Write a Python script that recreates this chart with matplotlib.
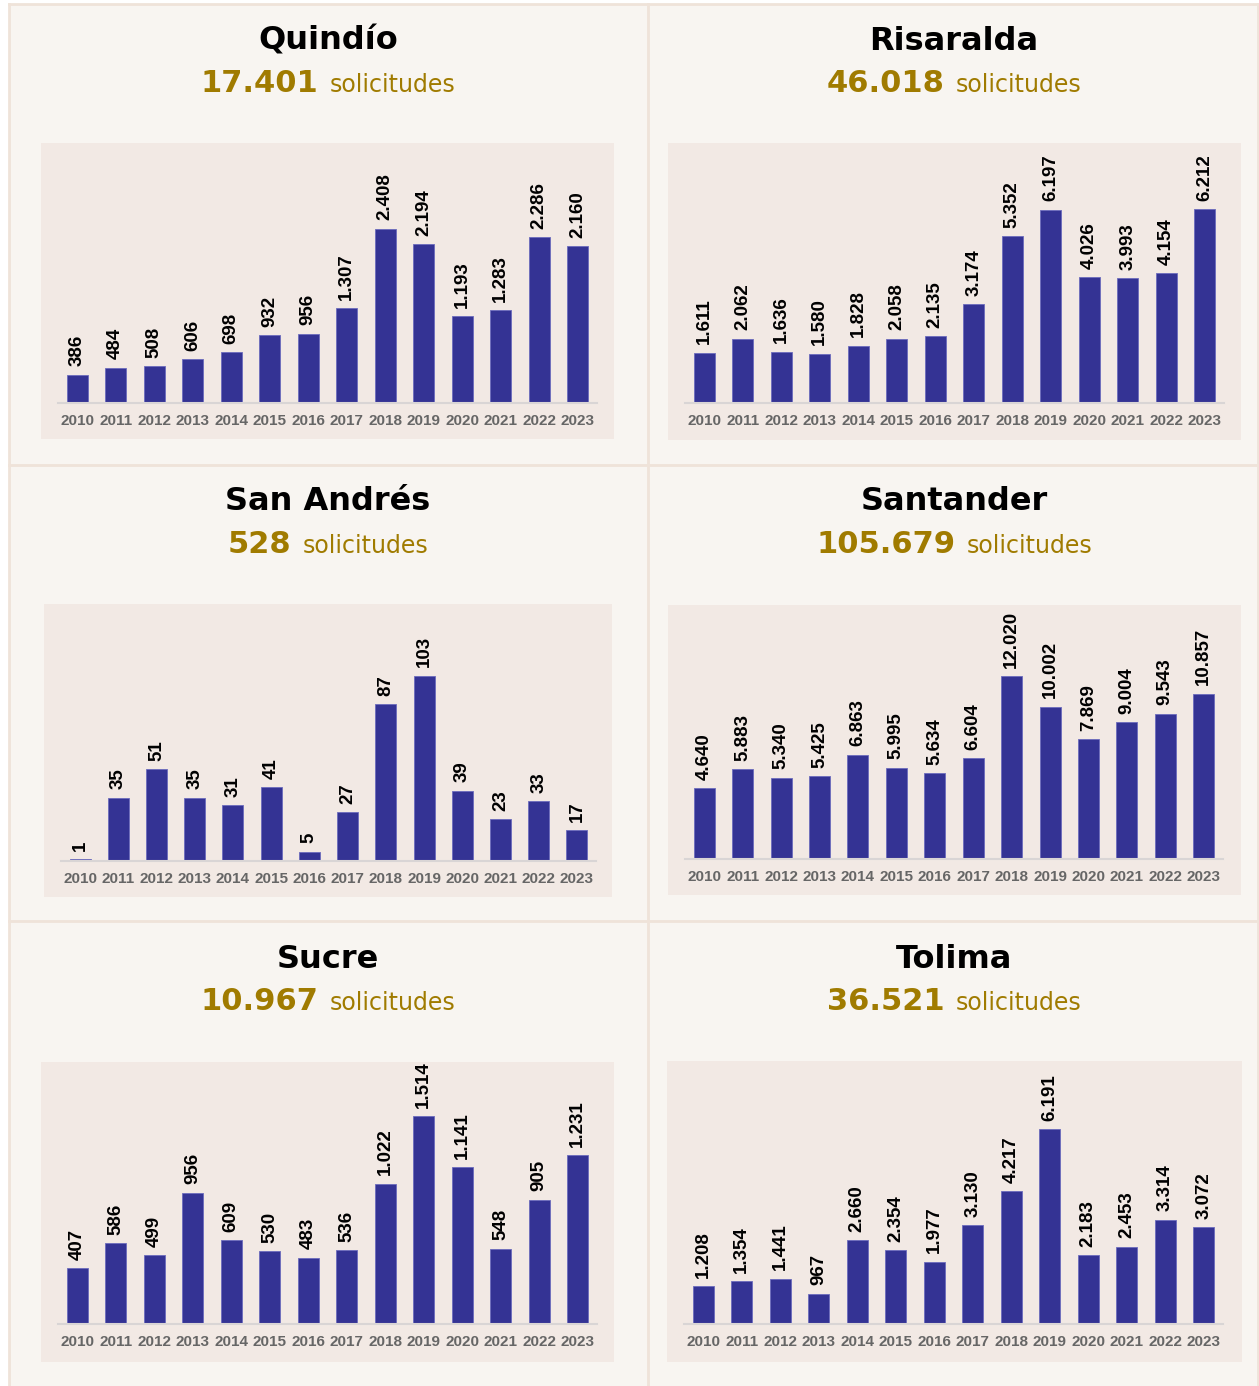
import matplotlib
matplotlib.use("Agg")
import matplotlib.pyplot as plt
from matplotlib.patches import Rectangle
from matplotlib.lines import Line2D

W, H = 1259, 1386

years = [str(y) for y in range(2010, 2024)]
departments = ["Quindío", "Risaralda", "San Andrés", "Santander", "Sucre", "Tolima"]

quindio = [386, 484, 508, 606, 698, 932, 956, 1307, 2408, 2194, 1193, 1283, 2286, 2160]
risaralda = [1611, 2062, 1636, 1580, 1828, 2058, 2135, 3174, 5352, 6197, 4026, 3993, 4154, 6212]
san_andres = [1, 35, 51, 35, 31, 41, 5, 27, 87, 103, 39, 23, 33, 17]
santander = [4640, 5883, 5340, 5425, 6863, 5995, 5634, 6604, 12020, 10002, 7869, 9004, 9543, 10857]
sucre = [407, 586, 499, 956, 609, 530, 483, 536, 1022, 1514, 1141, 548, 905, 1231]
tolima = [1208, 1354, 1441, 967, 2660, 2354, 1977, 3130, 4217, 6191, 2183, 2453, 3314, 3072]
series = [quindio, risaralda, san_andres, santander, sucre, tolima]

# layout in pixels: inner background box, axis x-range, baseline, axis top value
inner_boxes = [(41, 143, 614, 439), (668, 143, 1241, 440),
               (44, 604, 612, 897), (668, 605, 1241, 895),
               (41, 1062, 614, 1362), (667, 1061, 1242, 1362)]
axis_x = [(58, 597), (685, 1224), (61, 596), (685, 1223), (58, 597), (684, 1223)]
baselines = [402.7, 402.7, 860.7, 859, 1324, 1324]
ymaxes = [3591, 8342, 142.9, 16683, 1907, 8357]
title_pos = [(328, 41), (954, 41), (328, 502), (954, 502), (328, 959), (954, 959)]
sub_y_off = 40

PANEL_BG = "#f8f5f1"
INNER_BG = "#f2e9e4"
BORDER = "#efe3d9"
BAR = "#343394"
GOLD = "#a07b00"


def fx(x):
    return x / W


def fy(y):
    return 1 - y / H


def fmt(v):
    return f"{v:,}".replace(",", ".")


fig = plt.figure(figsize=(W / 100, H / 100), dpi=100, facecolor="white")

# panel background and separating lines
fig.patches.append(Rectangle((fx(9), 0), fx(W - 9), fy(4), transform=fig.transFigure,
                             facecolor=PANEL_BG, edgecolor="none", zorder=-3))
for (x0, y0, x1, y1) in [(9, 4, 9, H), (648, 4, 648, H), (9, 4, W, 4),
                         (9, 465, W, 465), (9, 921, W, 921), (W - 1, 4, W - 1, H)]:
    fig.lines.append(Line2D([fx(x0), fx(x1)], [fy(y0), fy(y1)], transform=fig.transFigure,
                            color=BORDER, lw=2, zorder=-2))

renderer = fig.canvas.get_renderer()

for i, name in enumerate(departments):
    vals = series[i]
    bx0, by0, bx1, by1 = inner_boxes[i]
    fig.patches.append(Rectangle((fx(bx0), fy(by1)), fx(bx1 - bx0), (by1 - by0) / H,
                                 transform=fig.transFigure, facecolor=INNER_BG,
                                 edgecolor="none", zorder=-1))
    ax0, ax1 = axis_x[i]
    base = baselines[i]
    ax = fig.add_axes([fx(ax0), fy(base), fx(ax1 - ax0), (base - by0) / H])
    ax.patch.set_alpha(0)
    ax.bar(range(len(years)), vals, width=0.55, color=BAR, edgecolor="#6b6bbd", linewidth=0.6)
    ax.set_xlim(-0.5, len(years) - 0.5)
    ax.set_ylim(0, ymaxes[i])
    ax.set_xticks(range(len(years)))
    ax.set_xticklabels(years, fontfamily="Liberation Sans", fontweight="bold",
                       fontsize=11, color="#666666")
    ax.tick_params(axis="x", length=0, pad=8)
    ax.set_yticks([])
    for s in ["top", "left", "right"]:
        ax.spines[s].set_visible(False)
    ax.spines["bottom"].set_color("#d9d5d5")
    ax.spines["bottom"].set_linewidth(1.5)
    for j, v in enumerate(vals):
        ax.annotate(fmt(v), xy=(j, v), xytext=(0, 6), textcoords="offset points",
                    rotation=90, ha="center", va="bottom", fontsize=13.5,
                    fontfamily="Liberation Sans", fontweight="bold", color="black")

    tx, ty = title_pos[i]
    fig.text(fx(tx), fy(ty), name, ha="center", va="center", fontsize=23,
             fontweight="bold", color="black", fontfamily="DejaVu Sans")

    # subtitle: bold total + regular word, centred together
    t1 = fig.text(0, 0, fmt(sum(vals)), ha="left", va="baseline",
                  fontsize=22, fontweight="bold", color=GOLD, fontfamily="DejaVu Sans")
    t2 = fig.text(0, 0, "solicitudes", ha="left", va="baseline",
                  fontsize=17, color=GOLD, fontfamily="DejaVu Sans")
    w1 = t1.get_window_extent(renderer).width
    w2 = t2.get_window_extent(renderer).width
    gap = 11
    start = tx - (w1 + gap + w2) / 2
    base_y = fy(ty + sub_y_off + 11)
    t1.set_position((fx(start), base_y))
    t2.set_position((fx(start + w1 + gap), base_y))

fig.savefig("out.png", dpi=100, facecolor=fig.get_facecolor())
